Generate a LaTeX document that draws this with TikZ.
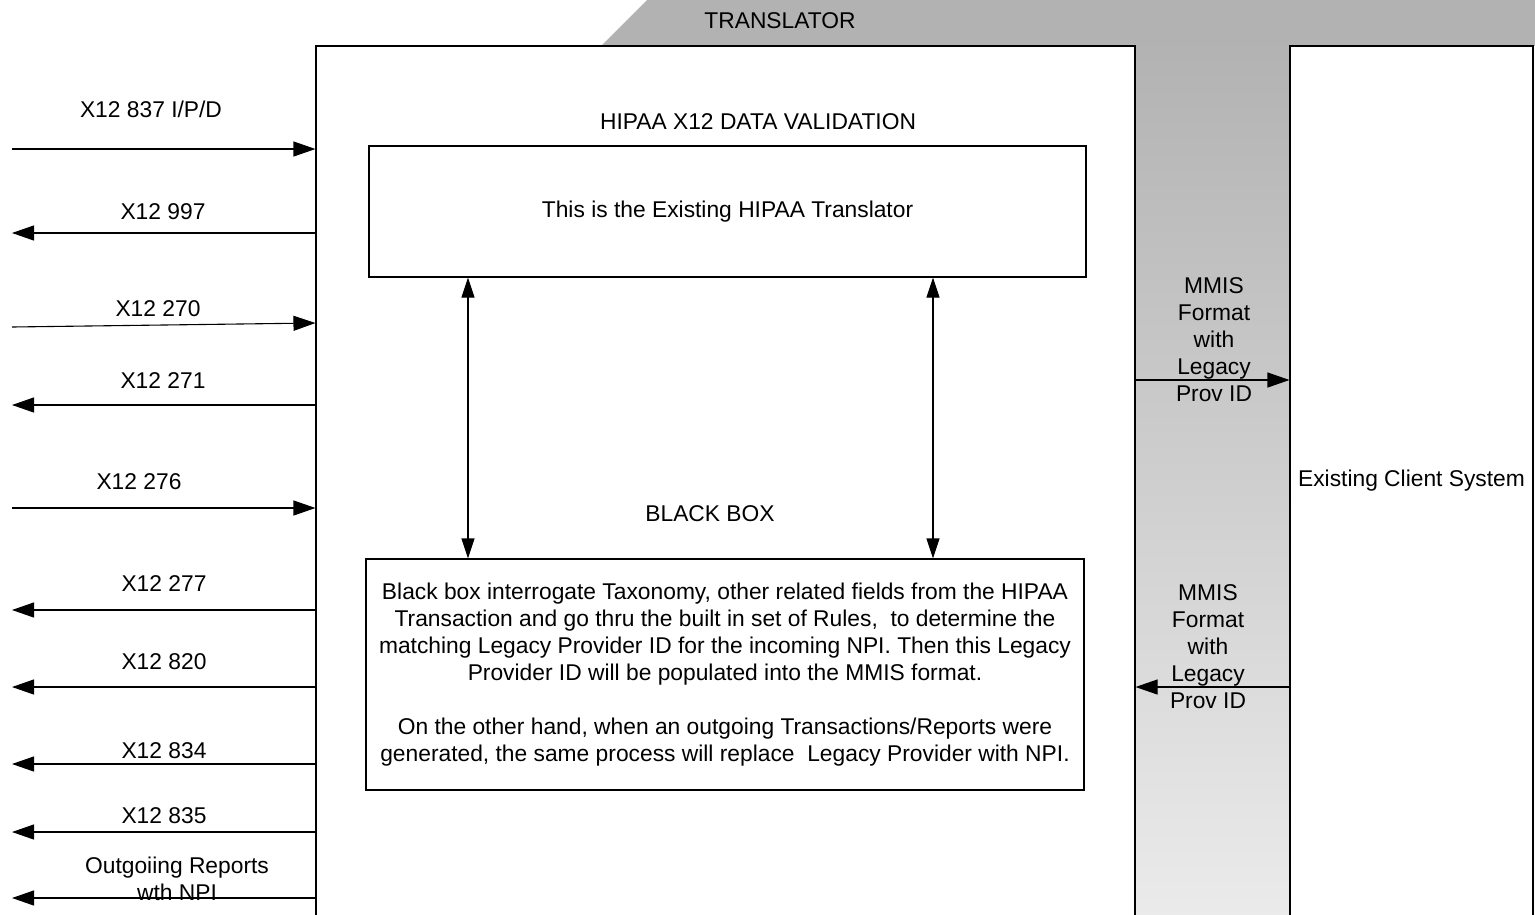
\documentclass[tikz,border=0pt]{standalone}
\usepackage{fontspec}
\setmainfont{Liberation Sans}
\usetikzlibrary{arrows.meta}
\definecolor{bandgray}{gray}{0.70}
\begin{document}
\begin{tikzpicture}[x=1pt,y=-1pt,
  font=\fontsize{22.8}{27}\selectfont,
  box/.style={draw,line width=1.1pt,inner sep=0pt,align=center},
  lbl/.style={inner sep=0pt,anchor=base},
  stack/.style={inner sep=0pt,align=center},
  wire/.style={line width=1.1pt},
  onetip/.style={wire,-{Triangle[length=22pt,width=15pt]}},
  twotip/.style={wire,{Triangle[length=20pt,width=13pt]}-{Triangle[length=20pt,width=13pt]}}
]
\useasboundingbox (0,0) rectangle (1535,914);
\clip (0,0) rectangle (1535,914);

% translator banner and the channel down to the client system
\fill[bandgray] (647,0) -- (1535,0) -- (1535,46) -- (601,46) -- cycle;
\node[lbl] (bannertxt) at (780,28) {TRANSLATOR};
\shade[top color=black!30,bottom color=black!8] (1135,46) rectangle (1290,914);

% main blocks
\node[box,minimum width=819pt,minimum height=870pt] (hipaa) at (725.5,481) {};
\node[box,minimum width=243pt,minimum height=870pt] (client) at (1411.5,481) {Existing Client System};
\node[lbl] (valtitle) at (758,129) {HIPAA X12 DATA VALIDATION};
\node[box,minimum width=717pt,minimum height=131pt] (existing) at (727.5,211.5) {This is the Existing HIPAA Translator};
\node[lbl] (bbtitle) at (710,521) {BLACK BOX};
\node[box,minimum width=718pt,minimum height=231pt] (blackbox) at (725,674.5)
  {Black box interrogate Taxonomy, other related fields from the HIPAA\\
   Transaction and go thru the built in set of Rules,\ \ to determine the\\
   matching Legacy Provider ID for the incoming NPI. Then this Legacy\\
   Provider ID will be populated into the MMIS format.\\[27pt]
   On the other hand, when an outgoing Transactions/Reports were\\
   generated, the same process will replace\ \ Legacy Provider with NPI.};

% links between the translator and the black box
\draw[twotip] ([xshift=-259.5pt]existing.south) -- ([xshift=-257pt]blackbox.north);
\draw[twotip] ([xshift=205.5pt]existing.south) -- ([xshift=208pt]blackbox.north);

% transaction feeds on the left edge
\coordinate (f1) at (12,149);
\coordinate (f2) at (12,233);
\coordinate (f3) at (12,327);
\coordinate (f3e) at (0,323);
\coordinate (f4) at (12,405);
\coordinate (f5) at (12,508);
\coordinate (f6) at (12,610);
\coordinate (f7) at (12,687);
\coordinate (f8) at (12,764);
\coordinate (f9) at (12,832);
\coordinate (f10) at (12,898);

\draw[onetip] (f1) -- (hipaa.west |- f1);
\draw[onetip] (hipaa.west |- f2) -- (f2);
\draw[onetip] (f3) -- (hipaa.west |- f3e);
\draw[onetip] (hipaa.west |- f4) -- (f4);
\draw[onetip] (f5) -- (hipaa.west |- f5);
\draw[onetip] (hipaa.west |- f6) -- (f6);
\draw[onetip] (hipaa.west |- f7) -- (f7);
\draw[onetip] (hipaa.west |- f8) -- (f8);
\draw[onetip] (hipaa.west |- f9) -- (f9);
\draw[onetip] (hipaa.west |- f10) -- (f10);

\node[lbl] (t1) at (151,117) {X12 837 I/P/D};
\node[lbl] (t2) at (163,219) {X12 997};
\node[lbl] (t3) at (158,316) {X12 270};
\node[lbl] (t4) at (163,388) {X12 271};
\node[lbl] (t5) at (139,489) {X12 276};
\node[lbl] (t6) at (164,591) {X12 277};
\node[lbl] (t7) at (164,669) {X12 820};
\node[lbl] (t8) at (164,758) {X12 834};
\node[lbl] (t9) at (164,823) {X12 835};
\node[stack] (t10) at (177,878.5) {Outgoiing Reports\\wth NPI};

% MMIS exchange with the client system
\coordinate (m1) at (1214,380);
\coordinate (m2) at (1208,687);
\draw[onetip] (hipaa.east |- m1) -- (client.west |- m1);
\draw[onetip] (client.west |- m2) -- (hipaa.east |- m2);
\node[stack] (mmis1) at (1214,340) {MMIS\\Format\\with\\Legacy\\Prov ID};
\node[stack] (mmis2) at (1208,647) {MMIS\\Format\\with\\Legacy\\Prov ID};
\end{tikzpicture}
\end{document}
